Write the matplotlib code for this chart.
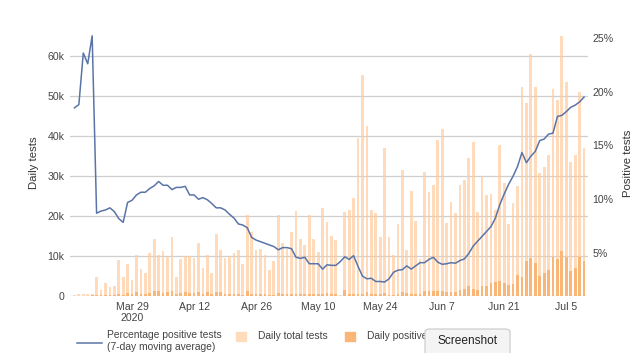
import numpy as np
import pandas as pd
import matplotlib
matplotlib.use('Agg')
import matplotlib.pyplot as plt
from matplotlib.patches import Rectangle, FancyBboxPatch
from matplotlib.lines import Line2D

plt.rcParams['font.family'] = ['Liberation Sans', 'DejaVu Sans']

# data (daily, from 16 Mar 2020)
start_date = '2020-03-16'
total_tests = [0.25, 0.4, 0.4, 0.5, 0.6, 4.7, 1.5, 3.3, 2.25, 2.4,
               8.9, 4.75, 8.1, 4.0, 10.25, 6.75, 5.8, 10.8, 14.3, 10.2,
               11.2, 9.8, 14.7, 4.8, 9.2, 10.0, 10.0, 9.5, 13.2, 6.9,
               10.2, 5.8, 15.5, 11.5, 9.4, 10.0, 10.7, 11.4, 8.0, 20.2,
               16.0, 11.5, 11.7, 10.2, 6.5, 8.8, 20.2, 13.2, 11.8, 16.0,
               21.2, 14.2, 12.7, 20.2, 14.2, 11.1, 22.0, 18.5, 15.0, 14.0,
               0.3, 21.0, 21.5, 24.5, 39.4, 55.2, 42.5, 21.5, 20.8, 14.7,
               36.9, 14.7, 10.2, 18.0, 31.5, 11.6, 26.2, 18.8, 9.2, 31.0,
               26.0, 27.8, 39.1, 41.8, 18.2, 23.6, 20.7, 27.75, 29.0, 34.5,
               38.5, 21.0, 30.0, 25.3, 25.5, 21.5, 37.8, 28.2, 18.0, 23.2,
               27.5, 52.2, 48.2, 60.6, 52.2, 30.7, 32.2, 35.3, 51.7, 49.1,
               65.1, 53.6, 33.5, 35.3, 51.0, 37.1]
positive_tests = [0.05, 0.08, 0.1, 0.12, 0.15, 0.3, 0.2, 0.3, 0.25, 0.25,
                  0.55, 0.25, 0.8, 0.4, 1.1, 0.6, 0.4, 0.8, 1.3, 1.3,
                  0.8, 1.1, 1.3, 0.6, 0.8, 1.1, 0.8, 0.8, 1.1, 0.6,
                  1.1, 0.6, 1.1, 1.1, 0.6, 0.6, 0.6, 0.6, 0.25, 1.3,
                  0.6, 0.6, 0.6, 0.6, 0.25, 0.25, 0.8, 0.6, 0.5, 0.5,
                  0.5, 0.4, 0.5, 0.4, 0.6, 0.45, 0.4, 0.7, 0.4, 0.6,
                  0.05, 1.5, 0.6, 0.6, 0.4, 0.4, 1.1, 0.6, 0.55, 0.55,
                  0.8, 0.25, 0.25, 0.55, 1.1, 0.8, 0.55, 0.55, 0.55, 1.3,
                  1.3, 1.25, 1.25, 1.25, 0.9, 0.9, 1.1, 1.5, 1.75, 2.5,
                  1.75, 1.5, 2.5, 2.5, 3.2, 3.6, 3.75, 3.2, 2.75, 2.9,
                  5.25, 4.8, 8.75, 9.4, 8.25, 5.1, 5.8, 6.5, 9.8, 9.25,
                  11.25, 9.8, 6.25, 7.1, 9.8, 8.8]
pct_positive = [18.5, 18.8, 23.6, 22.6, 25.2, 8.7, 8.9, 9.0, 9.2, 8.85,
                8.2, 7.85, 9.7, 9.9, 10.4, 10.65, 10.65, 11.0, 11.25, 11.65,
                11.3, 11.3, 10.9, 11.1, 11.1, 11.2, 10.4, 10.4, 10.0, 10.15,
                9.95, 9.6, 9.2, 9.2, 9.0, 8.6, 8.25, 7.7, 7.6, 7.35,
                6.45, 6.2, 6.05, 5.9, 5.75, 5.6, 5.3, 5.5, 5.5, 5.4,
                4.6, 4.5, 4.6, 4.0, 4.0, 4.0, 3.5, 3.9, 3.85, 3.85,
                4.2, 4.65, 4.4, 4.75, 3.75, 2.85, 2.6, 2.65, 2.35, 2.35,
                2.3, 2.6, 3.2, 3.4, 3.45, 3.8, 3.5, 3.8, 4.1, 4.1,
                4.4, 4.6, 4.15, 3.95, 4.0, 4.1, 4.05, 4.3, 4.45, 4.95,
                5.65, 6.1, 6.55, 7.0, 7.45, 8.25, 9.5, 10.5, 11.4, 12.15,
                13.05, 14.35, 13.4, 14.0, 14.45, 15.45, 15.6, 16.05, 16.15, 17.7,
                17.8, 18.15, 18.55, 18.75, 19.05, 19.5]
tick_dates = ['2020-03-29', '2020-04-12', '2020-04-26', '2020-05-10',
              '2020-05-24', '2020-06-07', '2020-06-21', '2020-07-05']
tick_labels = ['Mar 29\n2020', 'Apr 12', 'Apr 26', 'May 10',
               'May 24', 'Jun 7', 'Jun 21', 'Jul 5']

dates = pd.date_range(start_date, periods=len(total_tests), freq='D')
total = np.array(total_tests) * 1000
pos = np.array(positive_tests) * 1000

fig = plt.figure(figsize=(6.4, 3.53), dpi=100)
ax = fig.add_axes([70/640, 1-296/353, 518/640, 266/353])
ax2 = ax.twinx()

ax.bar(dates, total, width=0.62, color='#ffcc9e', alpha=0.7, zorder=2)
ax.bar(dates, pos, width=0.62, color='#fab676', zorder=3)
ax2.plot(dates, pct_positive, color='#5a74a8', lw=1.1, zorder=4)

ax.set_xlim(pd.Timestamp(start_date) - pd.Timedelta(days=1),
            pd.Timestamp(start_date) + pd.Timedelta(days=115.9))
ax.set_ylim(0, 66500)
ax2.set_ylim(1.0, 25.74)

ax.set_yticks([0, 10000, 20000, 30000, 40000, 50000, 60000])
ax.set_yticklabels(['0', '10k', '20k', '30k', '40k', '50k', '60k'])
ax2.set_yticks([5, 10, 15, 20, 25])
ax2.set_yticklabels(['5%', '10%', '15%', '20%', '25%'])
ax.set_xticks([pd.Timestamp(d) for d in tick_dates])
ax.set_xticklabels(tick_labels)

ax.grid(axis='y', color='#cfcfcf', lw=0.9, zorder=0)
ax.set_axisbelow(True)
for a in (ax, ax2):
    for s in a.spines.values():
        s.set_visible(False)
ax.tick_params(axis='both', length=0, labelsize=7.6, colors='#444444')
ax.tick_params(axis='x', pad=4)
ax.tick_params(axis='y', pad=4)
ax2.tick_params(axis='y', length=0, labelsize=7.6, colors='#444444', pad=3)

ax.set_ylabel('Daily tests', fontsize=8.2, color='#333333', labelpad=6)
ax2.set_ylabel('Positive tests', fontsize=8.2, color='#333333', labelpad=7)

# legend drawn by hand
def fx(x):
    return x / 640

def fy(y):
    return 1 - y / 353

fig.add_artist(Line2D([fx(77), fx(102)], [fy(342.7), fy(342.7)],
                      color='#5a74a8', lw=1.1))
fig.text(fx(107), fy(330), 'Percentage positive tests\n(7-day moving average)',
         fontsize=7.4, color='#444444', va='top', linespacing=1.25)
fig.add_artist(Rectangle((fx(236), fy(341)), fx(10), 9.5/353,
                         color='#fedcbc'))
fig.text(fx(258), fy(336), 'Daily total tests', fontsize=7.4,
         color='#444444', va='center')
fig.add_artist(Rectangle((fx(345), fy(341)), fx(10), 9.5/353,
                         color='#fab676'))
fig.text(fx(367), fy(336), 'Daily positive', fontsize=7.4,
         color='#444444', va='center')

box = FancyBboxPatch((fx(425), fy(360)), fx(85), 31/353,
                     boxstyle='round,pad=0,rounding_size=0.008',
                     transform=fig.transFigure, facecolor='#f4f4f4',
                     edgecolor='#c9c9c9', lw=0.8, zorder=5)
fig.add_artist(box)
fig.text(fx(467.5), fy(341), 'Screenshot', fontsize=8.6, color='#222222',
         ha='center', va='center', zorder=6)

fig.savefig('out.png', dpi=100)
